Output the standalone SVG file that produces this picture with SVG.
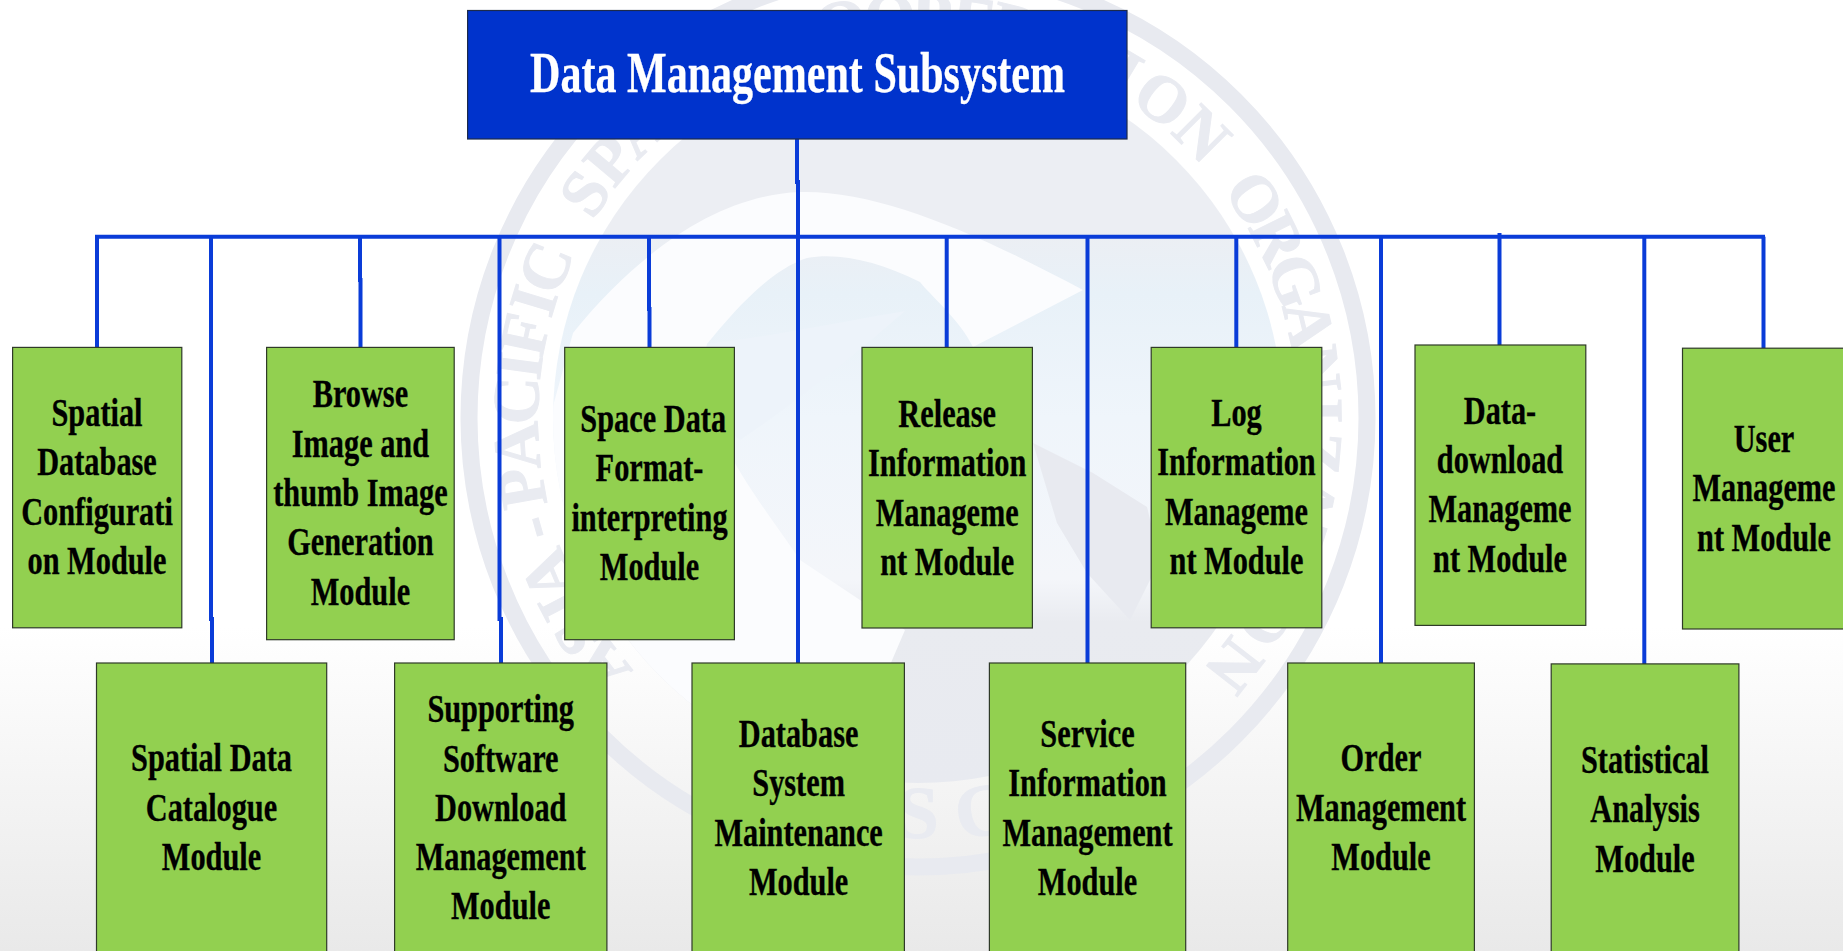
<svg xmlns="http://www.w3.org/2000/svg" width="1843" height="951" viewBox="0 0 1843 951">
<style>
.n{fill:#92d050;stroke:#2f3a28;stroke-width:1.2}
.t{font-family:"Liberation Serif","Times New Roman",serif;font-weight:700;font-size:41px;fill:#000;stroke:#000;stroke-width:.35;text-anchor:middle}
.w{font-family:"Liberation Serif","Times New Roman",serif;font-weight:700;font-size:66px;fill:#e9ebf1;stroke:#e9ebf1;stroke-width:1;text-anchor:middle}
.c{fill:none;stroke:#0a3cd8;stroke-width:4}
</style>
<defs>
<linearGradient id="bg" x1="0" y1="0" x2="0" y2="1"><stop offset="0" stop-color="#fff"/><stop offset=".66" stop-color="#fff"/><stop offset="1" stop-color="#e9e9e9"/></linearGradient>
<linearGradient id="disc" gradientUnits="userSpaceOnUse" x1="0" y1="53" x2="0" y2="783"><stop offset="0" stop-color="#eceef3"/><stop offset=".24" stop-color="#eceef3"/><stop offset=".33" stop-color="#e8f1f8"/><stop offset=".5" stop-color="#eff5fb"/><stop offset=".72" stop-color="#f4f6fa"/><stop offset=".78" stop-color="#e9ebf0"/><stop offset="1" stop-color="#e8eaf0"/></linearGradient>
<clipPath id="dc"><circle cx="918" cy="418" r="365"/></clipPath>
</defs>
<rect width="1843" height="951" fill="url(#bg)"/>
<g id="watermark">
<circle cx="918" cy="418" r="449" fill="none" stroke="#e8eaf0" stroke-width="17"/>
<circle cx="918" cy="418" r="365" fill="url(#disc)"/>
<g clip-path="url(#dc)">
<path d="M500 600L573 333C640 250 720 195 800 192C880 190 980 235 1083 290L973 347C960 320 930 295 920 282C880 262 840 252 807 258C770 270 735 310 707 344C690 420 760 500 800 560L905 630L890 665L700 720L640 700Z" fill="#fbfcfe"/>
<path d="M707 344C780 335 850 320 905 311C860 350 800 400 740 440C715 420 705 380 707 344Z" fill="#edf3fa"/>
<path d="M1033 443L1093 473L1147 507L1160 560L1130 620L1087 573L1057 523Z" fill="#e8eaf0"/>
</g>
<g class="w">
<text x="918" y="38" transform="rotate(-128 918 418)">A</text><text x="918" y="38" transform="rotate(-122.5 918 418)">S</text><text x="918" y="38" transform="rotate(-117.5 918 418)">I</text><text x="918" y="38" transform="rotate(-113 918 418)">A</text><text x="918" y="38" transform="rotate(-106 918 418)">-</text><text x="918" y="38" transform="rotate(-100 918 418)">P</text><text x="918" y="38" transform="rotate(-94 918 418)">A</text><text x="918" y="38" transform="rotate(-87.5 918 418)">C</text><text x="918" y="38" transform="rotate(-82.5 918 418)">I</text><text x="918" y="38" transform="rotate(-78 918 418)">F</text><text x="918" y="38" transform="rotate(-73 918 418)">I</text><text x="918" y="38" transform="rotate(-68 918 418)">C</text><text x="918" y="38" transform="rotate(-56 918 418)">S</text><text x="918" y="38" transform="rotate(-50 918 418)">P</text><text x="918" y="38" transform="rotate(-44 918 418)">A</text><text x="918" y="38" transform="rotate(-38 918 418)">C</text><text x="918" y="38" transform="rotate(-32 918 418)">E</text><text x="918" y="38" transform="rotate(-18 918 418)">C</text><text x="918" y="38" transform="rotate(-11 918 418)">O</text><text x="918" y="38" transform="rotate(-4 918 418)">O</text><text x="918" y="38" transform="rotate(2 918 418)">P</text><text x="918" y="38" transform="rotate(8 918 418)">E</text><text x="918" y="38" transform="rotate(14 918 418)">R</text><text x="918" y="38" transform="rotate(20 918 418)">A</text><text x="918" y="38" transform="rotate(26 918 418)">T</text><text x="918" y="38" transform="rotate(31 918 418)">I</text><text x="918" y="38" transform="rotate(37.5 918 418)">O</text><text x="918" y="38" transform="rotate(45 918 418)">N</text><text x="918" y="38" transform="rotate(57 918 418)">O</text><text x="918" y="38" transform="rotate(63.5 918 418)">R</text><text x="918" y="38" transform="rotate(70 918 418)">G</text><text x="918" y="38" transform="rotate(76.5 918 418)">A</text><text x="918" y="38" transform="rotate(83 918 418)">N</text><text x="918" y="38" transform="rotate(89 918 418)">I</text><text x="918" y="38" transform="rotate(95 918 418)">Z</text><text x="918" y="38" transform="rotate(101.5 918 418)">A</text><text x="918" y="38" transform="rotate(108 918 418)">T</text><text x="918" y="38" transform="rotate(113.5 918 418)">I</text><text x="918" y="38" transform="rotate(120 918 418)">O</text><text x="918" y="38" transform="rotate(128 918 418)">N</text>
<text x="918" y="838" style="font-size:74px">S</text><text x="986" y="835" transform="rotate(-10 986 835)" style="font-size:74px">C</text>
</g>
</g>
<g id="connectors">
<path class="c" d="M797 139V182H798V236.7"/>
<path class="c" d="M95 236.7H1765"/>
<path class="c" d="M97 236.7V347"/>
<path class="c" d="M211 236.7V619H212V663"/>
<path class="c" d="M360 236.7V280H360.5V347"/>
<path class="c" d="M499.5 236.7V619H501V663"/>
<path class="c" d="M649 236.7V309H649.5V347"/>
<path class="c" d="M798 236.7V663"/>
<path class="c" d="M946.7 236.7V347"/>
<path class="c" d="M1087.5 236.7V663"/>
<path class="c" d="M1236.3 236.7V347"/>
<path class="c" d="M1381 236.7V663"/>
<path class="c" d="M1499.5 233V345"/>
<path class="c" d="M1644.3 236.7V664"/>
<path class="c" d="M1763.5 236.7V348"/>
</g>
<g id="root"><rect x="467.6" y="10.5" width="659.4" height="128.5" fill="#0033cc" stroke="#1c2a4a" stroke-width="1.2"/>
<text transform="translate(797.5 0) scale(.738 1)" y="91.7" style="font-family:'Liberation Serif','Times New Roman',serif;font-weight:700;font-size:57px;fill:#fff;stroke:#fff;stroke-width:.3;text-anchor:middle">Data Management Subsystem</text></g>
<g id="n1"><rect class="n" x="12.6" y="347.4" width="169.2" height="280.4"/><text class="t" transform="translate(97 1) scale(.74 1)"><tspan x="0" y="425">Spatial</tspan><tspan x="0" y="474.3">Database</tspan><tspan x="0" y="523.6">Configurati</tspan><tspan x="0" y="573">on Module</tspan></text></g>
<g id="n2"><rect class="n" x="96.5" y="663" width="230.2" height="300"/><text class="t" transform="translate(211.5 1) scale(.74 1)"><tspan x="0" y="770.4">Spatial Data</tspan><tspan x="0" y="819.7">Catalogue</tspan><tspan x="0" y="868.6">Module</tspan></text></g>
<g id="n3"><rect class="n" x="266.6" y="347.4" width="187.6" height="292.3"/><text class="t" transform="translate(360.4 1) scale(.74 1)"><tspan x="0" y="406.4">Browse</tspan><tspan x="0" y="455.7">Image and</tspan><tspan x="0" y="505">thumb Image</tspan><tspan x="0" y="554.3">Generation</tspan><tspan x="0" y="603.6">Module</tspan></text></g>
<g id="n4"><rect class="n" x="394.6" y="663" width="212.3" height="300"/><text class="t" transform="translate(500.7 1) scale(.74 1)"><tspan x="0" y="721.3">Supporting</tspan><tspan x="0" y="770.6">Software</tspan><tspan x="0" y="820">Download</tspan><tspan x="0" y="869.3">Management</tspan><tspan x="0" y="918">Module</tspan></text></g>
<g id="n5"><rect class="n" x="564.7" y="347.4" width="169.7" height="292.3"/><text class="t" transform="translate(649.5 1) scale(.74 1)"><tspan x="5" y="431.4">Space Data</tspan><tspan x="0" y="480.5">Format-</tspan><tspan x="0" y="530">interpreting</tspan><tspan x="0" y="578.7">Module</tspan></text></g>
<g id="n6"><rect class="n" x="692" y="663" width="212.4" height="300"/><text class="t" transform="translate(798.6 1) scale(.74 1)"><tspan x="0" y="746">Database</tspan><tspan x="0" y="795">System</tspan><tspan x="0" y="845">Maintenance</tspan><tspan x="0" y="894.3">Module</tspan></text></g>
<g id="n7"><rect class="n" x="862" y="347.4" width="170.4" height="280.6"/><text class="t" transform="translate(947.2 1) scale(.74 1)"><tspan x="0" y="426">Release</tspan><tspan x="0" y="475">Information</tspan><tspan x="0" y="525">Manageme</tspan><tspan x="0" y="574">nt Module</tspan></text></g>
<g id="n8"><rect class="n" x="989.4" y="663" width="196.3" height="300"/><text class="t" transform="translate(1087.5 1) scale(.74 1)"><tspan x="0" y="746">Service</tspan><tspan x="0" y="795">Information</tspan><tspan x="0" y="845">Management</tspan><tspan x="0" y="894.3">Module</tspan></text></g>
<g id="n9"><rect class="n" x="1151.2" y="347.4" width="170.6" height="280.4"/><text class="t" transform="translate(1236.5 1) scale(.74 1)"><tspan x="0" y="425">Log</tspan><tspan x="0" y="474.3">Information</tspan><tspan x="0" y="524">Manageme</tspan><tspan x="0" y="573">nt Module</tspan></text></g>
<g id="n10"><rect class="n" x="1287.7" y="663" width="186.7" height="300"/><text class="t" transform="translate(1381 1) scale(.74 1)"><tspan x="0" y="770.4">Order</tspan><tspan x="0" y="819.7">Management</tspan><tspan x="0" y="868.6">Module</tspan></text></g>
<g id="n11"><rect class="n" x="1415" y="345" width="170.8" height="280.4"/><text class="t" transform="translate(1500 1) scale(.74 1)"><tspan x="0" y="423">Data-</tspan><tspan x="0" y="472">download</tspan><tspan x="0" y="521.5">Manageme</tspan><tspan x="0" y="571.5">nt Module</tspan></text></g>
<g id="n12"><rect class="n" x="1551.2" y="663.9" width="187.7" height="300"/><text class="t" transform="translate(1645 1) scale(.74 1)"><tspan x="0" y="771.6">Statistical</tspan><tspan x="0" y="821">Analysis</tspan><tspan x="0" y="870.6">Module</tspan></text></g>
<g id="n13"><rect class="n" x="1682.5" y="348.2" width="170" height="280.8"/><text class="t" transform="translate(1764 1) scale(.74 1)"><tspan x="0" y="450.8">User</tspan><tspan x="0" y="500">Manageme</tspan><tspan x="0" y="549.8">nt Module</tspan></text></g>
</svg>
